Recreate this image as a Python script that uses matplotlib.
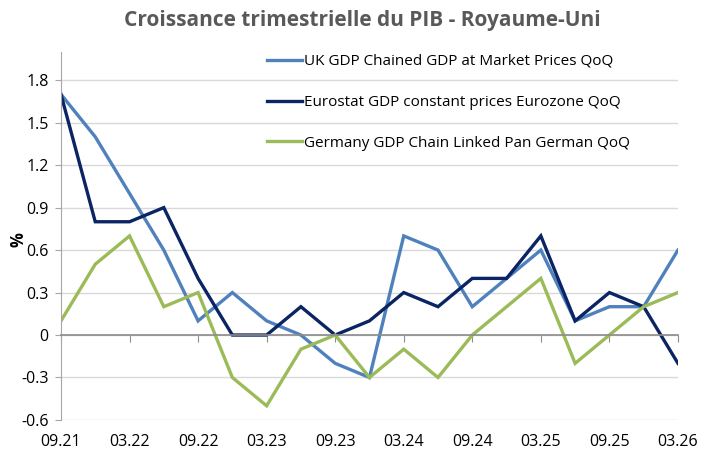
import matplotlib
matplotlib.use("Agg")
import matplotlib.pyplot as plt
import numpy as np

quarters = ["09.21", "12.21", "03.22", "06.22", "09.22", "12.22", "03.23", "06.23",
            "09.23", "12.23", "03.24", "06.24", "09.24", "12.24", "03.25", "06.25",
            "09.25", "12.25", "03.26"]
uk = [1.7, 1.4, 1.0, 0.6, 0.1, 0.3, 0.1, 0.0, -0.2, -0.3, 0.7, 0.6, 0.2, 0.4, 0.6, 0.1, 0.2, 0.2, 0.6]
euro = [1.7, 0.8, 0.8, 0.9, 0.4, 0.0, 0.0, 0.2, 0.0, 0.1, 0.3, 0.2, 0.4, 0.4, 0.7, 0.1, 0.3, 0.2, -0.2]
germany = [0.1, 0.5, 0.7, 0.2, 0.3, -0.3, -0.5, -0.1, 0.0, -0.3, -0.1, -0.3, 0.0, 0.2, 0.4, -0.2, 0.0, 0.2, 0.3]
series_names = ["UK GDP Chained GDP at Market Prices QoQ",
                "Eurostat GDP constant prices Eurozone QoQ",
                "Germany GDP Chain Linked Pan German QoQ"]
yticks = [-0.6, -0.3, 0, 0.3, 0.6, 0.9, 1.2, 1.5, 1.8]
ytick_labels = ["-0.6", "-0.3", "0", "0.3", "0.6", "0.9", "1.2", "1.5", "1.8"]
title = "Croissance trimestrielle du PIB - Royaume-Uni"

plt.rcParams['font.family'] = ['Open Sans', 'DejaVu Sans']

fig = plt.figure(figsize=(7.04, 4.55), dpi=100)
ax = fig.add_axes([0.0866, 0.077, 0.963 - 0.0866, 0.886 - 0.077])

x = np.arange(len(quarters))
colors = ["#4F81BD", "#0B2463", "#9BBB59"]
for vals, c, name in zip([uk, euro, germany], colors, series_names):
    ax.plot(x, vals, color=c, lw=2.4, label=name, solid_joinstyle='miter')

ax.set_xlim(0, len(quarters) - 1)
ax.set_ylim(-0.6, 2.0)
ax.set_yticks(yticks)
ax.set_yticklabels(ytick_labels, fontsize=11.5)
ax.yaxis.grid(True, color="#D9D9D9", lw=1)
ax.set_axisbelow(True)
ax.tick_params(axis='y', length=4, color="#A6A6A6", pad=5)

for s in ['top', 'right']:
    ax.spines[s].set_visible(False)
ax.spines['left'].set_color("#A6A6A6")
ax.spines['bottom'].set_position(('data', 0))
ax.spines['bottom'].set_color("#8C8C8C")
ax.spines['bottom'].set_linewidth(1.2)

tick_pos = x[::2]
ax.set_xticks(tick_pos)
ax.set_xticklabels([])
ax.tick_params(axis='x', length=5, color="#8C8C8C", direction='out')

sec = ax.secondary_xaxis(0.0)
sec.set_xticks(tick_pos)
sec.set_xticklabels(quarters[::2], fontsize=11.5)
sec.tick_params(length=0, pad=10)
sec.spines['bottom'].set_visible(False)

ax.set_ylabel("%", fontsize=12, fontweight='bold', labelpad=2)
ax.yaxis.set_label_coords(-0.055, 0.49)

fig.text(0.515, 0.955, title, ha='center', va='center', fontsize=15,
         fontweight='bold', color="#595959")

leg = fig.legend(loc='upper left', bbox_to_anchor=(0.37, 0.895), frameon=False,
                 fontsize=11, handlelength=2.3, handletextpad=0.15, labelspacing=1.7,
                 borderaxespad=0)

fig.savefig("out.png", dpi=100)
